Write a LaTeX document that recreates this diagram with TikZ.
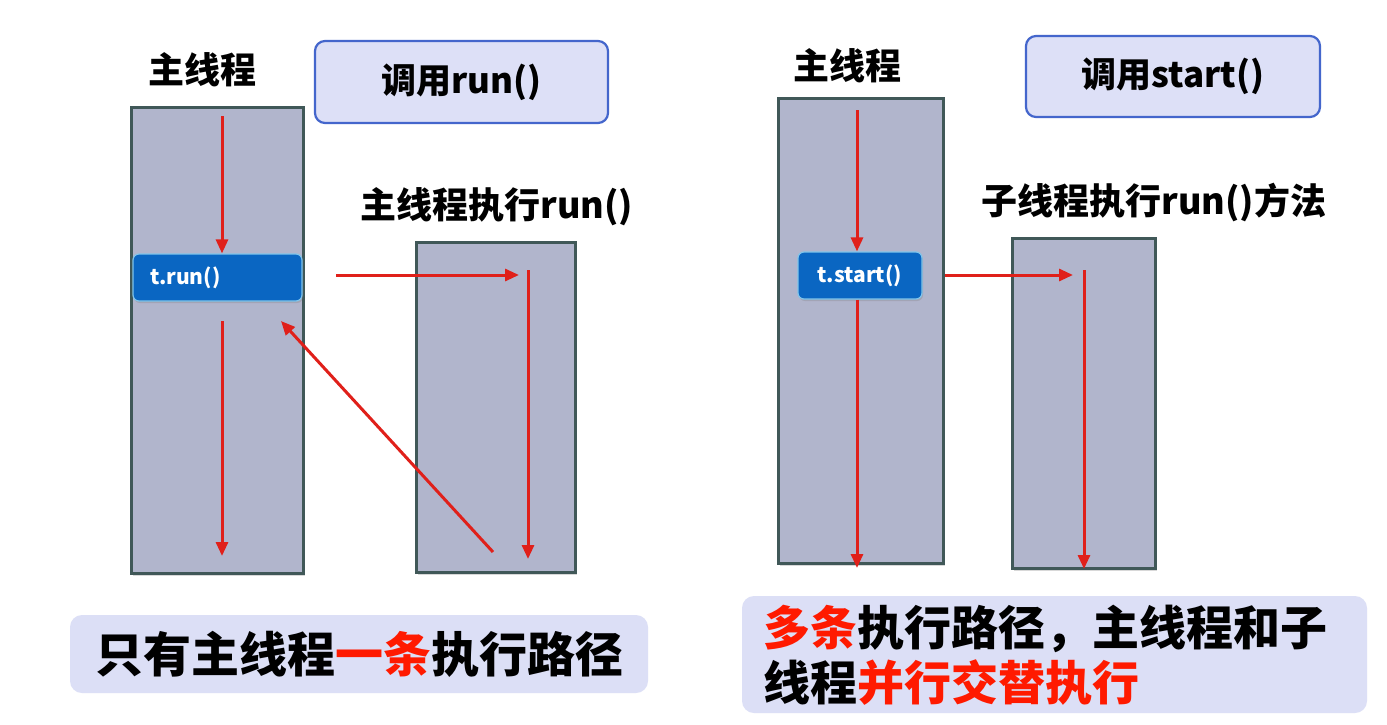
\documentclass[tikz,border=0pt]{standalone}
\usepackage{fontspec}
\setmainfont{Noto Sans CJK SC}
\usetikzlibrary{arrows.meta,shadows}
\definecolor{thrfill}{HTML}{B1B5CC}
\definecolor{thrdraw}{HTML}{405858}
\definecolor{boxfill}{HTML}{DDE0F7}
\definecolor{boxdraw}{HTML}{4466CC}
\definecolor{callfill}{HTML}{0A66C2}
\definecolor{calldraw}{HTML}{80C4EA}
\definecolor{arr}{HTML}{E0201A}
\definecolor{redtxt}{HTML}{FF1A00}
\definecolor{notefill}{HTML}{DCDFF6}
\tikzset{
  thread/.style={draw=thrdraw, fill=thrfill, line width=3pt, inner sep=0pt,
    drop shadow={opacity=0.3, shadow xshift=2pt, shadow yshift=-3pt}},
  callbox/.style={draw=boxdraw, fill=boxfill, line width=2.2pt, rounded corners=10pt,
    inner sep=0pt, font=\bfseries\fontsize{35}{40}\selectfont},
  invoke/.style={draw=calldraw, fill=callfill, line width=1.2pt, rounded corners=6pt,
    text=white, font=\bfseries\fontsize{21}{25}\selectfont, minimum height=47pt,
    drop shadow={opacity=0.3, shadow xshift=1pt, shadow yshift=-2pt}},
  lbl/.style={font=\bfseries\fontsize{36}{42}\selectfont},
  note/.style={fill=notefill, rounded corners=12pt, inner sep=0pt,
    font=\bfseries\fontsize{48}{55}\selectfont},
  flow/.style={draw=arr, line width=3pt, -{Triangle[length=14pt,width=12pt]}}
}
\begin{document}
\begin{tikzpicture}[x=1pt,y=-1pt]
\useasboundingbox[fill=white] (0,0) rectangle (1387,724);

% ---------- left ----------
\node[lbl] (lmainlbl) at (202,70) {主线程};
\node[callbox, minimum width=293pt, minimum height=82pt] (lcall) at (461.5,82) {调用run()};
\node[thread, minimum width=172pt, minimum height=466pt] (lmain) at (217,340) {};
\node[lbl] (lsublbl) at (497,207) {主线程执行run()};
\node[thread, minimum width=159pt, minimum height=330pt] (lsub) at (495.5,407) {};
\node[invoke, minimum width=169pt, text width=135pt, inner xsep=17pt, align=left] (trun) at (217.5,277.5) {t.run()};

\coordinate (l1a) at (222,116);
\draw[flow] (l1a) -- (trun.north -| l1a);
\coordinate (l2a) at (222,321);
\coordinate (l2b) at (222,556);
\draw[flow] (l2a) -- (l2b);
\coordinate (lha) at (336,275);
\coordinate (lhb) at (519,275);
\draw[flow] (lha) -- (lhb);
\coordinate (lva) at (528,270);
\coordinate (lvb) at (528,559);
\draw[flow] (lva) -- (lvb);
\coordinate (lda) at (493,552);
\coordinate (ldb) at (281,321);
\draw[flow] (lda) -- (ldb);

\node[note, minimum width=578pt, minimum height=78pt] (lnote) at (359,654)
  {只有主线程\textcolor{redtxt}{一条}执行路径};

% ---------- right ----------
\node[lbl] (rmainlbl) at (847,66) {主线程};
\node[callbox, minimum width=294pt, minimum height=81pt] (rcall) at (1173,76.5) {调用start()};
\node[thread, minimum width=165pt, minimum height=465pt] (rmain) at (860.5,330.5) {};
\node[lbl] (rsublbl) at (1154,202) {子线程执行run()方法};
\node[thread, minimum width=143pt, minimum height=330pt] (rsub) at (1083.5,403) {};
\node[invoke, minimum width=124pt] (tstart) at (860,275.5) {t.start()};

\coordinate (r1a) at (857,110);
\draw[flow] (r1a) -- (tstart.north -| r1a);
\coordinate (r2b) at (857,568);
\draw[flow] (tstart.south -| r2b) -- (r2b);
\coordinate (rha) at (945,275);
\coordinate (rhb) at (1073,275);
\draw[flow] (rha) -- (rhb);
\coordinate (rva) at (1084,270);
\coordinate (rvb) at (1084,569);
\draw[flow] (rva) -- (rvb);

\node[note, minimum width=625pt, minimum height=117pt] (rnote) at (1054.5,654.5) {};
\node[font=\bfseries\fontsize{47}{55}\selectfont, anchor=west, align=left, inner sep=0pt] (rnotetxt) at (763,655)
  {\textcolor{redtxt}{多条}执行路径，主线程和子\\线程\textcolor{redtxt}{并行交替执行}};
\end{tikzpicture}
\end{document}
